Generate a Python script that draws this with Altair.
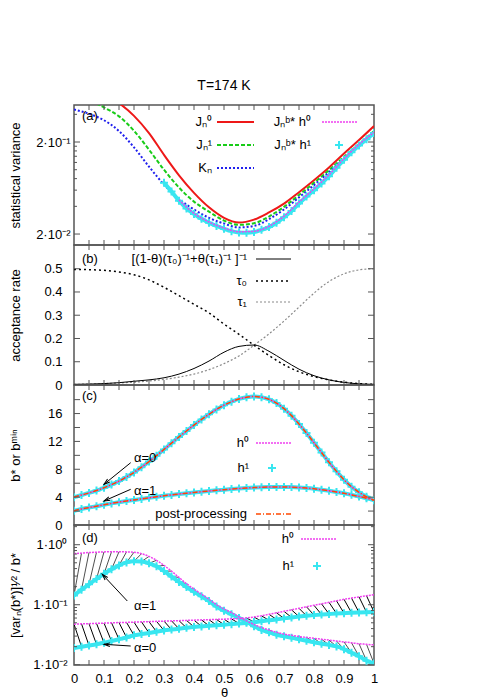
import math
import altair as alt
import pandas as pd

# ---------------- data ----------------
TH05 = [0.0, 0.05, 0.1, 0.15, 0.2, 0.25, 0.3, 0.35, 0.4, 0.45, 0.5,
        0.55, 0.6, 0.65, 0.7, 0.75, 0.8, 0.85, 0.9, 0.95, 1.0]
TH025 = [0.0, 0.025, 0.05, 0.075, 0.1, 0.125, 0.15, 0.175, 0.2, 0.225, 0.25,
         0.275, 0.3, 0.325, 0.35, 0.375, 0.4, 0.425, 0.45, 0.475, 0.5,
         0.525, 0.55, 0.575, 0.6, 0.625, 0.65, 0.675, 0.7, 0.725, 0.75,
         0.775, 0.8, 0.825, 0.85, 0.875, 0.9, 0.925, 0.95, 0.975, 1.0]

# (a) statistical variance
A_J0 = [0.9, 0.8, 0.67, 0.53, 0.385, 0.25, 0.145, 0.087, 0.056, 0.039, 0.030,
        0.0267, 0.0287, 0.0343, 0.0428, 0.057, 0.077, 0.106, 0.15, 0.21, 0.298]
A_J1 = [0.65, 0.57, 0.475, 0.38, 0.265, 0.165, 0.1, 0.064, 0.045, 0.035, 0.028,
        0.0252, 0.0262, 0.031, 0.0395, 0.053, 0.072, 0.099, 0.138, 0.19, 0.263]
A_KN = [0.452, 0.405, 0.345, 0.263, 0.175, 0.108, 0.069, 0.048, 0.037, 0.030, 0.026,
        0.0236, 0.0245, 0.029, 0.037, 0.05, 0.068, 0.094, 0.132, 0.184, 0.255]
A_H0_TH = [0.35, 0.4, 0.45, 0.5, 0.55, 0.6, 0.65, 0.7, 0.75, 0.8, 0.85, 0.9, 0.95, 1.0]
A_H0 = [0.047, 0.0335, 0.027, 0.0232, 0.0212, 0.0214, 0.0243, 0.0313, 0.0445,
        0.062, 0.088, 0.132, 0.188, 0.255]
A_H1_TH = TH025[12:]
A_H1 = [0.072, 0.058, 0.046, 0.038, 0.0330, 0.0293, 0.0265, 0.0245, 0.0228, 0.0215,
        0.0208, 0.0207, 0.021, 0.0222, 0.0238, 0.0265, 0.0305, 0.0355, 0.043, 0.051,
        0.060, 0.071, 0.085, 0.105, 0.128, 0.155, 0.183, 0.215, 0.25]

# (b) acceptance rate
B_HARM = [0.003, 0.004, 0.006, 0.01, 0.016, 0.022, 0.031, 0.047, 0.071, 0.103, 0.141,
          0.166, 0.172, 0.145, 0.106, 0.068, 0.04, 0.022, 0.011, 0.005, 0.003]
B_TAU0 = [0.497, 0.496, 0.493, 0.486, 0.474, 0.452, 0.42, 0.384, 0.347, 0.31, 0.262,
          0.218, 0.171, 0.127, 0.087, 0.057, 0.036, 0.022, 0.012, 0.006, 0.003]
B_TAU1 = [0.003, 0.004, 0.006, 0.009, 0.012, 0.017, 0.024, 0.034, 0.047, 0.066, 0.092,
          0.125, 0.171, 0.22, 0.275, 0.335, 0.395, 0.445, 0.478, 0.495, 0.5]

# (c) b* or b_min
C_ALPHA0 = [4.0, 4.3, 4.6, 4.95, 5.35, 5.8, 6.3, 6.9, 7.55, 8.3, 9.1, 9.95, 10.85,
            11.75, 12.65, 13.5, 14.35, 15.15, 15.9, 16.6, 17.2, 17.7, 18.1, 18.35,
            18.45, 18.35, 18.05, 17.5, 16.7, 15.7, 14.5, 13.2, 11.8, 10.4, 9.0, 7.7,
            6.5, 5.5, 4.7, 4.05, 3.56]
C_ALPHA1 = [2.05, 2.3, 2.5, 2.7, 2.9, 3.1, 3.28, 3.45, 3.6, 3.75, 3.9, 4.05, 4.2,
            4.32, 4.45, 4.56, 4.67, 4.78, 4.88, 4.98, 5.07, 5.16, 5.24, 5.31, 5.37,
            5.42, 5.45, 5.47, 5.47, 5.44, 5.38, 5.3, 5.2, 5.07, 4.92, 4.75, 4.55,
            4.33, 4.1, 3.85, 3.6]

# (d) relative error
D_H0_A1 = [0.708, 0.724, 0.741, 0.750, 0.759, 0.762, 0.762, 0.759, 0.750, 0.708,
           0.638, 0.550, 0.452, 0.363, 0.285, 0.224, 0.182, 0.150, 0.123, 0.100,
           0.0851, 0.0741, 0.0631, 0.0537, 0.0468, 0.0417, 0.0380, 0.0347, 0.0324,
           0.0309, 0.0295, 0.0285, 0.0275, 0.0266, 0.0257, 0.0248, 0.0240, 0.0232,
           0.0224, 0.0219, 0.0214]
D_H1_A1 = [0.143, 0.178, 0.219, 0.269, 0.327, 0.389, 0.452, 0.507, 0.531, 0.525,
           0.490, 0.437, 0.363, 0.295, 0.240, 0.197, 0.164, 0.138, 0.115, 0.0933,
           0.0794, 0.0692, 0.0603, 0.0519, 0.0437, 0.0380, 0.0347, 0.0316, 0.0299,
           0.0282, 0.0266, 0.0251, 0.0237, 0.0224, 0.0214, 0.0202, 0.0182, 0.0158,
           0.0138, 0.0117, 0.0105]
D_H0_A0 = [0.0475, 0.0480, 0.0484, 0.0489, 0.0494, 0.0499, 0.0504, 0.0508, 0.0513,
           0.0518, 0.0522, 0.0528, 0.0533, 0.0538, 0.0543, 0.0548, 0.0553, 0.0558,
           0.0564, 0.0569, 0.0575, 0.0582, 0.0589, 0.0603, 0.0624, 0.0653, 0.0692,
           0.0733, 0.0776, 0.0822, 0.0871, 0.0923, 0.0977, 0.1035, 0.1096, 0.116,
           0.123, 0.129, 0.135, 0.141, 0.147]
D_H1_A0 = [0.0190, 0.0200, 0.0209, 0.0219, 0.0232, 0.0248, 0.0266, 0.0285, 0.0309,
           0.0324, 0.0339, 0.0355, 0.0372, 0.0385, 0.0398, 0.0412, 0.0425, 0.0435,
           0.0445, 0.0454, 0.0465, 0.0475, 0.0486, 0.0499, 0.0513, 0.0531, 0.0550,
           0.0569, 0.0592, 0.0614, 0.0634, 0.0653, 0.0671, 0.0687, 0.0700, 0.0713,
           0.0724, 0.0735, 0.0743, 0.0750, 0.0755]

# ticks and labels
X_TICKS = [0.05, 0.1, 0.15, 0.2, 0.25, 0.3, 0.35, 0.4, 0.45, 0.5, 0.55, 0.6, 0.65,
           0.7, 0.75, 0.8, 0.85, 0.9, 0.95]
X_LABELS = [0, 0.1, 0.2, 0.3, 0.4, 0.5, 0.6, 0.7, 0.8, 0.9, 1.0]
A_YMAJOR = [0.02, 0.2]
A_YLABELS = ["2·10⁻²", "2·10⁻¹"]
A_YMINOR = [0.04, 0.06, 0.08, 0.1, 0.12, 0.14, 0.16, 0.18, 0.4]
B_YTICKS = [0.1, 0.2, 0.3, 0.4, 0.5]
B_YLABELS = [0, 0.1, 0.2, 0.3, 0.4, 0.5]
C_YTICKS = [2, 4, 6, 8, 10, 12, 14, 16, 18]
C_YLABELS = [0, 4, 8, 12, 16]
D_YMAJOR = [0.01, 0.1, 1.0]
D_YLABELS = ["1·10⁻²", "1·10⁻¹", "1·10⁰"]
D_YMINOR = [0.02, 0.03, 0.04, 0.05, 0.06, 0.07, 0.08, 0.09,
            0.2, 0.3, 0.4, 0.5, 0.6, 0.7, 0.8, 0.9, 2.0]

# ---------------- styling ----------------
W, H = 300, 140
FONT = "Liberation Sans"
FS = 13
FRAME = "#555555"
RED = "#ee1818"
GREEN = "#18cc18"
BLUE = "#2020ee"
MAGENTA = "#f040f0"
CYAN = "#38e6f0"
ORANGE = "#ff4800"
GRAY = "#8a8a8a"
PLUS = "M-1,0L1,0M0,-1L0,1"
HEAD = "M-0.45,1.5L0,0L0.45,1.5"
XS = alt.Scale(domain=[0, 1], nice=False, zero=False)


def label_expr(vals, labels):
    e = ""
    for v, l in zip(vals, labels):
        e += f"abs(datum.value - {v}) < {v * 0.001 + 1e-9} ? '{l}' : "
    return e + "''"


def yaxis(title, values, labels=None, fmt=None, pad=12):
    kw = dict(title=title, values=values, ticks=False, tickSize=0, domain=False,
              grid=False, labelPadding=pad, minExtent=44, maxExtent=44,
              titlePadding=8, labelFont=FONT, labelFontSize=FS, labelColor="black",
              titleFont=FONT, titleFontSize=FS, titleFontWeight="normal",
              titleColor="black", labelFlush=False, labelOverlap=False)
    if labels is not None:
        kw["labelExpr"] = label_expr(values, labels)
    if fmt is not None:
        kw["format"] = fmt
    return alt.Axis(**kw)


def xe(p):
    return alt.X("theta:Q", scale=XS, axis=p["xa"])


def ye(p):
    return alt.Y("v:Q", scale=p["ys"], axis=p["ya"])


def line(p, th, vals, color, width, dash=None):
    kw = dict(color=color, strokeWidth=width, clip=True, interpolate="monotone")
    if dash is not None:
        kw["strokeDash"] = dash
    return alt.Chart(pd.DataFrame({"theta": th, "v": vals})).mark_line(**kw).encode(
        x=xe(p), y=ye(p))


def pluses(p, th, vals):
    df = pd.DataFrame({"theta": th, "v": vals})
    band = alt.Chart(df).mark_line(color=CYAN, strokeWidth=4, clip=True,
                                   interpolate="monotone").encode(x=xe(p), y=ye(p))
    pts = alt.Chart(df).mark_point(shape=PLUS, filled=False, color=CYAN, strokeWidth=2,
                                   size=64, opacity=1, clip=True).encode(x=xe(p), y=ye(p))
    return [band, pts]


def hatch(p, th, upper, lower, color, lean, lo, hi):
    rows = []
    for i in range(len(th) - 1):
        if not (lo <= th[i] < hi):
            continue
        if lean == "back":
            rows.append({"theta": th[i], "theta2": th[i + 1], "v": upper[i], "v2": lower[i + 1]})
        else:
            rows.append({"theta": th[i], "theta2": th[i + 1], "v": lower[i], "v2": upper[i + 1]})
    return alt.Chart(pd.DataFrame(rows)).mark_rule(color=color, strokeWidth=1, clip=True).encode(
        x=xe(p), x2=alt.X2("theta2"), y=ye(p), y2=alt.Y2("v2"))


def ticks(p, ymajor, yminor=None, lmaj=6, lmin=3):
    out = []
    dfx = pd.DataFrame({"theta": X_TICKS})
    out.append(alt.Chart(dfx).mark_rule(color=FRAME).encode(
        x=xe(p), y=alt.value(0), y2=alt.value(5)))
    out.append(alt.Chart(dfx).mark_rule(color=FRAME).encode(
        x=xe(p), y=alt.value(H - 5), y2=alt.value(H)))
    for vals, ln in ((ymajor, lmaj), (yminor, lmin)):
        if not vals:
            continue
        dfy = pd.DataFrame({"v": vals})
        out.append(alt.Chart(dfy).mark_rule(color=FRAME).encode(
            y=ye(p), x=alt.value(0), x2=alt.value(ln)))
        out.append(alt.Chart(dfy).mark_rule(color=FRAME).encode(
            y=ye(p), x=alt.value(W - ln), x2=alt.value(W)))
    return out


def text(t, x, y, align="left", size=FS):
    return alt.Chart(pd.DataFrame({"t": [t]})).mark_text(
        align=align, baseline="middle", font=FONT, fontSize=size, color="black").encode(
        x=alt.value(x), y=alt.value(y), text="t:N")


def sample(x1, x2, y, color, width, dash=None):
    kw = dict(color=color, strokeWidth=width)
    if dash is not None:
        kw["strokeDash"] = dash
    return alt.Chart(pd.DataFrame({"k": [0]})).mark_rule(**kw).encode(
        x=alt.value(x1), x2=alt.value(x2), y=alt.value(y))


def plus_sample(x, y):
    return alt.Chart(pd.DataFrame({"k": [0]})).mark_point(
        shape=PLUS, filled=False, color=CYAN, strokeWidth=2, size=64, opacity=1).encode(
        x=alt.value(x), y=alt.value(y))


def arrow(x1, y1, x2, y2):
    ang = math.degrees(math.atan2(x2 - x1, -(y2 - y1))) % 360
    shaft = alt.Chart(pd.DataFrame({"k": [0]})).mark_rule(color="black", strokeWidth=1).encode(
        x=alt.value(x1), x2=alt.value(x2), y=alt.value(y1), y2=alt.value(y2))
    head = alt.Chart(pd.DataFrame({"k": [0]})).mark_point(
        shape=HEAD, filled=False, color="black", strokeWidth=1, size=64, opacity=1,
        angle=ang).encode(x=alt.value(x2), y=alt.value(y2))
    return [shaft, head]


# ---------------- panel (a) ----------------
pa = {"xa": None,
      "ys": alt.Scale(type="log", domain=[0.0152, 0.505], nice=False),
      "ya": yaxis("statistical variance", A_YMAJOR, A_YLABELS, pad=4)}
layers_a = [
    line(pa, TH05, A_J0, RED, 2),
    line(pa, TH05, A_J1, GREEN, 2, [4, 2]),
    line(pa, TH05, A_KN, BLUE, 2, [2, 2]),
] + pluses(pa, A_H1_TH, A_H1) + [
    line(pa, A_H0_TH, A_H0, MAGENTA, 1.5, [2, 1]),
] + ticks(pa, A_YMAJOR, A_YMINOR) + [
    text("T=174 K", 150, -19, align="center", size=14),
    text("(a)", 8, 11),
    text("Jₙ⁰", 138, 17, align="right"),
    sample(143, 180, 17, RED, 2),
    text("Jₙ¹", 138, 40, align="right"),
    sample(143, 180, 40, GREEN, 2, [4, 2]),
    text("Kₙ", 138, 63, align="right"),
    sample(143, 180, 63, BLUE, 2, [2, 2]),
    text("Jₙᵇ* h⁰", 237, 17, align="right"),
    sample(248, 283, 17, MAGENTA, 1.5, [2, 1]),
    text("Jₙᵇ* h¹", 237, 40, align="right"),
    plus_sample(265, 40),
]
chart_a = alt.layer(*layers_a).properties(width=W, height=H)

# ---------------- panel (b) ----------------
pb = {"xa": None,
      "ys": alt.Scale(domain=[0, 0.602], nice=False, zero=False),
      "ya": yaxis("acceptance rate", B_YLABELS, fmt=".1~f", pad=12)}
layers_b = [
    line(pb, TH05, B_TAU1, GRAY, 1.2, [2, 2]),
    line(pb, TH05, B_TAU0, "black", 1.5, [2, 3]),
    line(pb, TH05, B_HARM, "black", 1),
] + ticks(pb, B_YTICKS) + [
    text("(b)", 8, 14),
    text("[(1-θ)(τ₀)⁻¹+θ(τ₁)⁻¹ ]⁻¹", 173, 14, align="right"),
    sample(182, 217, 14, "black", 1),
    text("τ₀", 173, 36, align="right"),
    sample(182, 217, 36, "black", 1.5, [2, 3]),
    text("τ₁", 173, 57, align="right"),
    sample(182, 217, 57, GRAY, 1.2, [2, 2]),
]
chart_b = alt.layer(*layers_b).properties(width=W, height=H)

# ---------------- panel (c) ----------------
pc = {"xa": None,
      "ys": alt.Scale(domain=[0, 20.1], nice=False, zero=False),
      "ya": yaxis("b* or bᵐⁱⁿ", C_YLABELS, fmt="d", pad=12)}
layers_c = (pluses(pc, TH025, C_ALPHA0) + pluses(pc, TH025, C_ALPHA1) + [
    line(pc, TH025, C_ALPHA0, MAGENTA, 1.5, [2, 1]),
    line(pc, TH025, C_ALPHA1, MAGENTA, 1.5, [2, 1]),
    line(pc, TH025, C_ALPHA0, ORANGE, 1.5, [5, 2, 1, 2]),
    line(pc, TH025, C_ALPHA1, ORANGE, 1.5, [5, 2, 1, 2]),
] + ticks(pc, C_YTICKS) + [
    text("(c)", 8, 11),
    text("h⁰", 175, 58, align="right"),
    sample(182, 217, 58, MAGENTA, 1.5, [2, 1]),
    text("h¹", 175, 83, align="right"),
    plus_sample(198, 83),
    text("post-processing", 173, 129, align="right"),
    sample(182, 217, 129, ORANGE, 1.5, [5, 2, 1, 2]),
    text("α=0", 60, 73),
    text("α=1", 60, 106),
] + arrow(56.7, 77.7, 30, 99.3) + arrow(56.7, 104.3, 30, 116))
chart_c = alt.layer(*layers_c).properties(width=W, height=H)

# ---------------- panel (d) ----------------
xaxis_d = alt.Axis(title="θ", values=X_LABELS, format=".1~f", ticks=False, tickSize=0,
                   domain=False, grid=False, labelPadding=7, labelFont=FONT,
                   labelFontSize=FS, labelColor="black", titleFont=FONT, titleFontSize=13,
                   titleFontWeight="normal", titleColor="black", titlePadding=1,
                   labelFlush=False)
pd_ = {"xa": xaxis_d,
       "ys": alt.Scale(type="log", domain=[0.0099, 2.13], nice=False),
       "ya": yaxis("[varₙ(b*)]¹⁄² / b*", D_YMAJOR, D_YLABELS, pad=7)}
layers_d = ([
    hatch(pd_, TH025, D_H0_A0, D_H1_A0, "black", "back", 0, 1),
    hatch(pd_, TH025, D_H0_A1, D_H1_A1, "#505050", "fwd", 0, 0.5),
    hatch(pd_, TH025, D_H0_A1, D_H1_A1, "#505050", "back", 0.5, 1),
] + pluses(pd_, TH025, D_H1_A0) + pluses(pd_, TH025, D_H1_A1) + [
    line(pd_, TH025, D_H0_A0, MAGENTA, 1.5, [2, 1]),
    line(pd_, TH025, D_H0_A1, MAGENTA, 1.5, [2, 1]),
] + ticks(pd_, D_YMAJOR, D_YMINOR) + [
    text("(d)", 8, 13),
    text("h⁰", 220, 14, align="right"),
    sample(227, 262, 14, MAGENTA, 1.5, [2, 1]),
    text("h¹", 220, 41, align="right"),
    plus_sample(243, 41),
    text("α=1", 60, 81),
    text("α=0", 60, 123),
] + arrow(53.3, 76, 28.3, 49.3) + arrow(56.7, 121, 30, 119.3))
chart_d = alt.layer(*layers_d).properties(width=W, height=H)

chart = alt.vconcat(chart_a, chart_b, chart_c, chart_d, spacing=0, bounds="flush").properties(
    padding={"left": 0, "top": 70, "right": 10, "bottom": 0}
).configure_view(stroke=FRAME, strokeWidth=1.5)

chart.save("out.html", embed_options={"renderer": "svg", "actions": False})
